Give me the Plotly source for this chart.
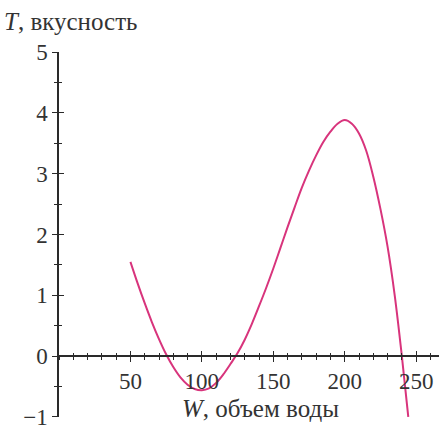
import plotly.graph_objects as go

# Values
W = [50, 55, 60, 65, 70, 75, 80, 85, 90, 95, 100, 105, 110, 115, 120, 125, 130,
     135, 140, 145, 150, 155, 160, 165, 170, 175, 180, 185, 190, 195, 200,
     205, 210, 215, 220, 225, 230, 235, 240, 244.5]
T = [1.55, 1.20, 0.87, 0.56, 0.28, 0.03, -0.18, -0.35, -0.47, -0.54, -0.56, -0.53,
     -0.44, -0.30, -0.13, 0.05, 0.27, 0.53, 0.82, 1.12, 1.44, 1.78, 2.12, 2.45,
     2.77, 3.05, 3.30, 3.52, 3.69, 3.82, 3.88, 3.82, 3.66, 3.38, 2.95, 2.42,
     1.80, 1.00, 0.0, -1.0]

x_ticks = [50, 100, 150, 200, 250]
y_ticks = [-1, 0, 1, 2, 3, 4, 5]

X_RANGE = [0, 266]
Y_RANGE = [-1.001, 5]

FONT = "Liberation Serif, DejaVu Serif, Times New Roman, serif"
AXIS_COLOR = "#2a2a2a"
CURVE_COLOR = "#d8347c"
TEXT_COLOR = "#333333"

fig = go.Figure()
fig.add_trace(go.Scatter(x=W, y=T, mode="lines",
                         line=dict(color=CURVE_COLOR, width=2, shape="spline", smoothing=1),
                         hoverinfo="skip", showlegend=False))
# invisible trace for the overlay axes (inside ticks)
fig.add_trace(go.Scatter(x=[W[0]], y=[T[0]], xaxis="x2", yaxis="y2", mode="markers",
                         marker=dict(opacity=0), hoverinfo="skip", showlegend=False))

pos0 = (0 - Y_RANGE[0]) / (Y_RANGE[1] - Y_RANGE[0])

tick_font = dict(family=FONT, size=23, color=TEXT_COLOR)

major = dict(ticklen=5, tickwidth=1.3, tickcolor=AXIS_COLOR)
minor_style = dict(ticklen=3, tickwidth=1.2, tickcolor=AXIS_COLOR)

fig.update_layout(
    width=439, height=426,
    margin=dict(l=59, r=0, t=52, b=9),
    paper_bgcolor="white", plot_bgcolor="white",
    xaxis=dict(range=X_RANGE, anchor="free", position=pos0, side="bottom",
               showline=True, linecolor=AXIS_COLOR, linewidth=1.5,
               showgrid=False, zeroline=False, automargin=False,
               tickvals=x_ticks, ticks="outside", **major,
               minor=dict(dtick=10, tick0=0, ticks="outside", **minor_style),
               tickfont=tick_font, ticklabeloverflow="allow"),
    yaxis=dict(range=Y_RANGE, anchor="x", side="left",
               showline=True, linecolor=AXIS_COLOR, linewidth=1.5,
               showgrid=False, zeroline=False, automargin=False,
               tickvals=y_ticks, ticks="outside", **major,
               minor=dict(dtick=0.5, tick0=0, ticks="outside", **minor_style),
               tickfont=tick_font, ticklabeloverflow="allow"),
    xaxis2=dict(range=X_RANGE, overlaying="x", anchor="free", position=pos0, side="bottom",
                showline=False, showgrid=False, zeroline=False, showticklabels=False,
                tickvals=x_ticks, ticks="inside", **major,
                minor=dict(dtick=10, tick0=0, ticks="inside", **minor_style)),
    yaxis2=dict(range=Y_RANGE, overlaying="y", anchor="x2", side="left",
                showline=False, showgrid=False, zeroline=False, showticklabels=False,
                tickvals=y_ticks, ticks="inside", **major,
                minor=dict(dtick=0.5, tick0=0, ticks="inside", **minor_style)),
    annotations=[
        dict(text="<i>T</i>, вкусность", xref="paper", yref="paper", x=-57/380, y=1 + 31/365,
             xanchor="left", yanchor="middle", showarrow=False,
             font=dict(family=FONT, size=25, color=TEXT_COLOR)),
        dict(text="<i>W</i>, объем воды", xref="x", yref="y", x=141, y=-0.86,
             xanchor="center", yanchor="middle", showarrow=False,
             font=dict(family=FONT, size=25, color=TEXT_COLOR)),
    ],
)

fig.write_html("out.html", config={"displayModeBar": False},
               post_script="document.body.style.margin='0';")
